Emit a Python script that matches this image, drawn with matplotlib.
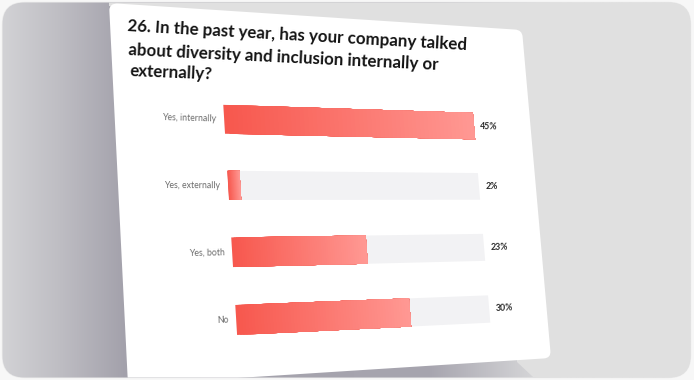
import numpy as np
import matplotlib
matplotlib.use('Agg')
import matplotlib.pyplot as plt
from matplotlib.transforms import Transform, Affine2D, IdentityTransform, blended_transform_factory
from matplotlib.patches import FancyBboxPatch, Polygon

# ---------------- data ----------------
title_lines = ["26. In the past year, has your company talked",
               "about diversity and inclusion internally or",
               "externally?"]
categories = ["Yes, internally", "Yes, externally", "Yes, both", "No"]
values = [45, 2, 23, 30]
value_labels = ["45%", "2%", "23%", "30%"]
axis_max = 45

# ---------------- figure ----------------
W, H = 694, 380
fig = plt.figure(figsize=(W / 100, H / 100), dpi=100)
fig.patch.set_facecolor('#f7f7f7')
FONT = ['Lato', 'DejaVu Sans']


class Homography(Transform):
    input_dims = 2
    output_dims = 2
    is_separable = False

    def __init__(self, M):
        super().__init__()
        self.M = M

    def transform_non_affine(self, values):
        xy = np.asarray(values, dtype=float).reshape(-1, 2)
        p = np.column_stack([xy, np.ones(len(xy))]) @ self.M.T
        return p[:, :2] / p[:, 2:3]


def solve_h(src, dst):
    A, b = [], []
    for (x, y), (X, Y) in zip(src, dst):
        A.append([x, y, 1, 0, 0, 0, -X * x, -X * y]); b.append(X)
        A.append([0, 0, 0, x, y, 1, -Y * x, -Y * y]); b.append(Y)
    h = np.linalg.solve(np.array(A, float), np.array(b, float))
    return np.append(h, 1).reshape(3, 3)


# card corners (image px, y down) -> display
corners_img = [(109, 3), (522, 30), (551, 358), (128, 385)]
dst = [(x, H - y) for x, y in corners_img]
src = [(0, H), (W, H), (W, 0), (0, 0)]
HG = Homography(solve_h(src, dst))
card_tf = Affine2D().scale(W, H) + HG

# ---------------- background ----------------
bg = fig.add_axes([0, 0, 1, 1])
bg.set_xlim(0, W)
bg.set_ylim(H, 0)
bg.axis('off')

frame = FancyBboxPatch((2.5, 2.5), 688, 375, boxstyle='round,pad=0,rounding_size=22',
                       fc='#e0e0e0', ec='#ebebeb', lw=1, zorder=0)
bg.add_patch(frame)

stops_x = [0, 60, 125, 430, 520, 560, 694]
stops_c = ['#d3d3d6', '#bebdc3', '#a3a1ab', '#a7a5af', '#cfcfd2', '#e0e0e0', '#e0e0e0']
rgb = np.array([matplotlib.colors.to_rgb(c) for c in stops_c])
xs = np.linspace(0, W, 700)
grad = np.stack([np.interp(xs, stops_x, rgb[:, i]) for i in range(3)], axis=-1)[None, :, :]
im = bg.imshow(grad, extent=(0, W, H, 0), aspect='auto', interpolation='bilinear', zorder=1)
im.set_clip_path(frame)

light = Polygon([(109, -5), (700, -5), (700, 390), (547, 390), (517, 362), (516, 40), (109, 6)],
                closed=True, fc='#e0e0e0', ec='none', zorder=2)
bg.add_patch(light)
light.set_clip_path(frame)

card = FancyBboxPatch((0, 0), 1, 1, boxstyle='round,pad=0,rounding_size=0.0194',
                      mutation_aspect=1.077, fc='white', ec='none', zorder=3,
                      transform=card_tf)
bg.add_patch(card)
card.set_clip_path(frame)

# ---------------- chart (flat, then projected) ----------------
ax = fig.add_axes([0.235, 0.0625, 0.61, 0.724])
ax.set_xlim(0, axis_max)
ax.set_ylim(len(categories) - 0.5, -0.5)
ax.axis('off')
chart_tf = ax.transData + HG
ypos = np.arange(len(categories))
bar_h = 0.44

tracks = ax.barh(ypos, [axis_max] * len(ypos), height=bar_h, color='#f2f2f4', lw=0)
for p in tracks:
    p.set_transform(chart_tf)
    p.set_clip_on(False)

c0 = np.array(matplotlib.colors.to_rgb('#f7584e'))
c1 = np.array(matplotlib.colors.to_rgb('#ff9893'))
N = 60
for yi, v in zip(ypos, values):
    lefts = v * np.arange(N) / N
    widths = v - lefts
    cols = [tuple(c0 + (c1 - c0) * k / (N - 1)) for k in range(N)]
    bars = ax.barh([yi] * N, widths, left=lefts, height=bar_h, color=cols, lw=0)
    for p in bars:
        p.set_transform(chart_tf)
        p.set_clip_on(False)


def put(tf, x, y, s, dx=0.01, **kw):
    p0 = tf.transform([[x, y]])[0]
    p1 = tf.transform([[x + dx, y]])[0]
    ang = np.degrees(np.arctan2(p1[1] - p0[1], p1[0] - p0[0]))
    fig.text(p0[0], p0[1], s, transform=IdentityTransform(), rotation=ang,
             rotation_mode='anchor', family=FONT, **kw)


# title
for line, w in zip(title_lines, [0.927, 0.862, 0.805]):
    put(card_tf, 0.035, w, line, fontsize=12.2, weight='bold', color='#141414',
        ha='left', va='baseline')

lab_tf = blended_transform_factory(ax.transAxes, ax.transData) + HG
for yi, cat in zip(ypos, categories):
    put(lab_tf, -0.028, yi, cat, fontsize=6.3, color='#6a6a6a', ha='right', va='center')
for yi, lbl in zip(ypos, value_labels):
    put(lab_tf, 1.028, yi, lbl, fontsize=6.3, weight='bold', color='#2a2a2a',
        ha='left', va='center')

fig.savefig('out.png', dpi=100, facecolor=fig.get_facecolor())
